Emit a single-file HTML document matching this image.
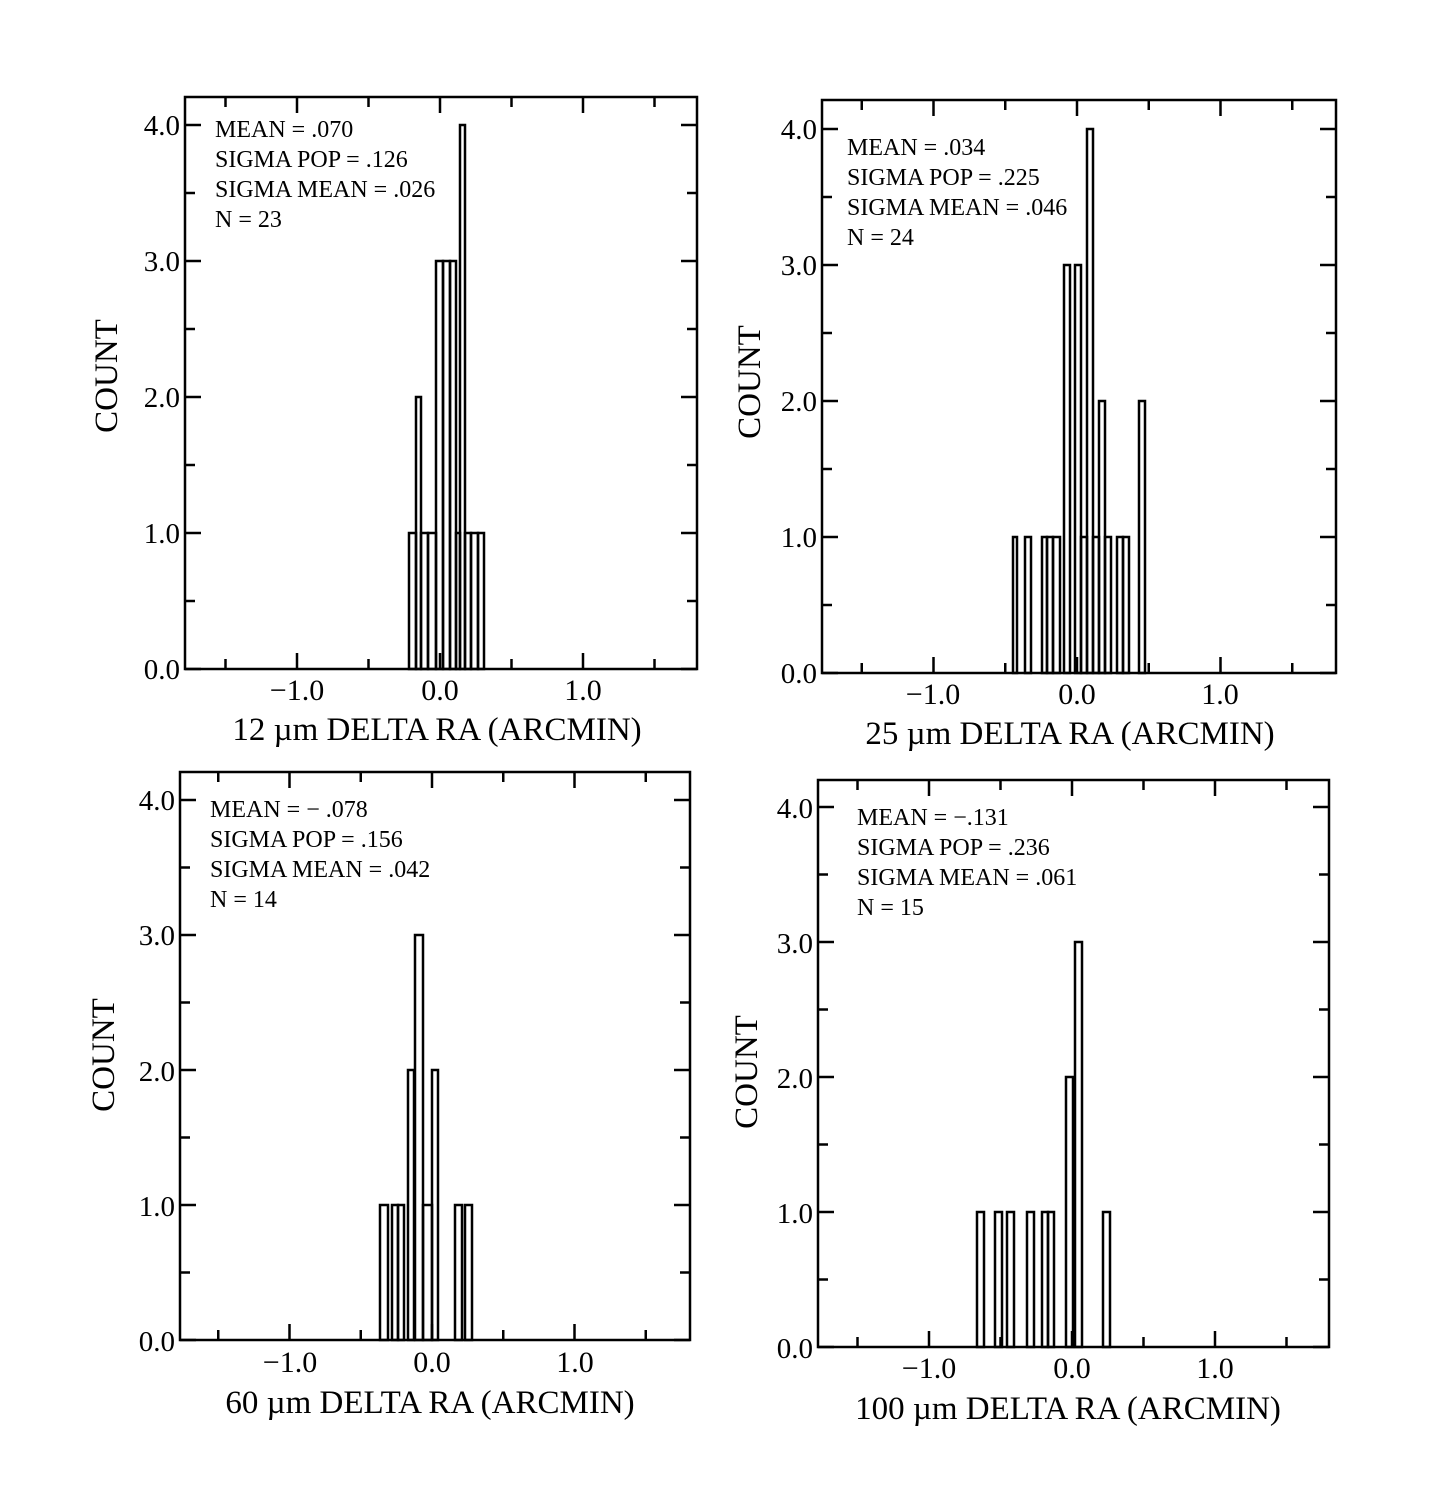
<!DOCTYPE html>
<html><head><style>body{margin:0;background:#fff}svg{display:block}text{font-family:"Liberation Serif",serif;fill:#000}</style></head>
<body>
<svg id="s" width="1456" height="1496" xmlns="http://www.w3.org/2000/svg">
<g font-size="24">
<text x="215" y="137">MEAN = .070</text><text x="215" y="167">SIGMA POP = .126</text><text x="215" y="197">SIGMA MEAN = .026</text><text x="215" y="227">N = 23</text>
<text x="847" y="155">MEAN = .034</text><text x="847" y="185">SIGMA POP = .225</text><text x="847" y="215">SIGMA MEAN = .046</text><text x="847" y="245">N = 24</text>
<text x="210" y="817">MEAN = &#8722; .078</text><text x="210" y="847">SIGMA POP = .156</text><text x="210" y="877">SIGMA MEAN = .042</text><text x="210" y="907">N = 14</text>
<text x="857" y="825">MEAN = &#8722;.131</text><text x="857" y="855">SIGMA POP = .236</text><text x="857" y="885">SIGMA MEAN = .061</text><text x="857" y="915">N = 15</text>
</g>
<g font-size="29" text-anchor="end">
<text x="180" y="135">4.0</text><text x="180" y="271">3.0</text><text x="180" y="407">2.0</text><text x="180" y="543">1.0</text><text x="180" y="679">0.0</text>
<text x="817" y="139">4.0</text><text x="817" y="275">3.0</text><text x="817" y="411">2.0</text><text x="817" y="547">1.0</text><text x="817" y="683">0.0</text>
<text x="175" y="810">4.0</text><text x="175" y="945">3.0</text><text x="175" y="1081">2.0</text><text x="175" y="1216">1.0</text><text x="175" y="1351">0.0</text>
<text x="813" y="818">4.0</text><text x="813" y="953">3.0</text><text x="813" y="1088">2.0</text><text x="813" y="1223">1.0</text><text x="813" y="1358">0.0</text>
</g>
<g font-size="30" text-anchor="middle">
<text x="297" y="700">&#8722;1.0</text><text x="440" y="700">0.0</text><text x="583" y="700">1.0</text>
<text x="933" y="704">&#8722;1.0</text><text x="1077" y="704">0.0</text><text x="1220" y="704">1.0</text>
<text x="290" y="1372">&#8722;1.0</text><text x="432" y="1372">0.0</text><text x="575" y="1372">1.0</text>
<text x="929" y="1378">&#8722;1.0</text><text x="1072" y="1378">0.0</text><text x="1215" y="1378">1.0</text>
</g>
<g font-size="33" text-anchor="middle">
<text x="437" y="740">12 µm DELTA RA (ARCMIN)</text>
<text x="1070" y="744">25 µm DELTA RA (ARCMIN)</text>
<text x="430" y="1413">60 µm DELTA RA (ARCMIN)</text>
<text x="1068" y="1419">100 µm DELTA RA (ARCMIN)</text>
<text transform="translate(117,376) rotate(-90)">COUNT</text>
<text transform="translate(760,382) rotate(-90)">COUNT</text>
<text transform="translate(114,1055) rotate(-90)">COUNT</text>
<text transform="translate(757,1072) rotate(-90)">COUNT</text>
</g>
</svg>
<script>
var s=document.getElementById('s'),NS='http://www.w3.org/2000/svg';
function el(t,a){var e=document.createElementNS(NS,t);for(var k in a)e.setAttribute(k,a[k]);s.appendChild(e);}
var P=[
{x0:185,x1:697,y0:97,y1:669,cx:440,ux:143,uy:136,bars:[[409,416,1],[416,421,2],[421,428,1],[428,436,1],[436,443,3],[443,450,3],[450,456,3],[456,460,1],[460,465,4],[465,471,1],[471,478,1],[478,484,1]]},
{x0:822,x1:1336,y0:100,y1:673,cx:1077,ux:143.5,uy:136,bars:[[1013,1017,1],[1025,1031,1],[1042,1047,1],[1047,1053,1],[1053,1060,1],[1064,1070,3],[1075,1081,3],[1081,1087,1],[1087,1093,4],[1093,1099,1],[1099,1105,2],[1105,1111,1],[1117,1123,1],[1123,1129,1],[1139,1145,2]]},
{x0:180,x1:690,y0:772,y1:1340,cx:432,ux:142.5,uy:135,bars:[[380,388,1],[392,398,1],[398,404,1],[408,414,2],[415,423,3],[423,432,1],[432,438,2],[455,462,1],[465,472,1]]},
{x0:818,x1:1329,y0:780,y1:1347,cx:1072,ux:143,uy:135,bars:[[977,984,1],[995,1002,1],[1007,1014,1],[1027,1034,1],[1042,1048,1],[1048,1054,1],[1066,1073,2],[1075,1082,3],[1103,1110,1]]}];
P.forEach(function(p){
 p.bars.forEach(function(b){el('rect',{x:b[0],y:p.y1-b[2]*p.uy,width:b[1]-b[0],height:b[2]*p.uy,fill:'none',stroke:'#000','stroke-width':2.5});});
 el('rect',{x:p.x0,y:p.y0,width:p.x1-p.x0,height:p.y1-p.y0,fill:'none',stroke:'#000','stroke-width':2.5});
 for(var v=-1.5;v<=1.51;v+=0.5){var x=p.cx+v*p.ux;if(x<p.x0||x>p.x1)continue;var L=Math.abs(v%1)<0.01?16:10;
  el('line',{x1:x,x2:x,y1:p.y1,y2:p.y1-L,stroke:'#000','stroke-width':2.5});el('line',{x1:x,x2:x,y1:p.y0,y2:p.y0+L,stroke:'#000','stroke-width':2.5});}
 for(var c=0;c<=4;c+=0.5){var y=p.y1-c*p.uy;var L=c%1==0?16:10;
  el('line',{x1:p.x0,x2:p.x0+L,y1:y,y2:y,stroke:'#000','stroke-width':2.5});el('line',{x1:p.x1,x2:p.x1-L,y1:y,y2:y,stroke:'#000','stroke-width':2.5});}
});
</script>
</body></html>
